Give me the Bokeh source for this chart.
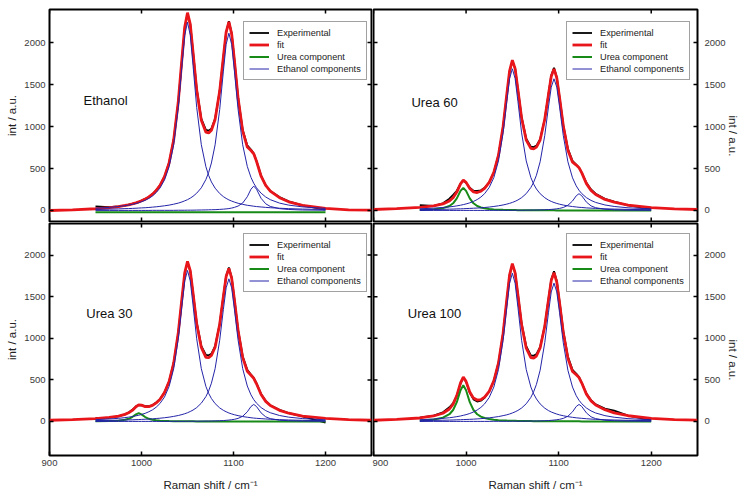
import math
from bokeh.plotting import figure
from bokeh.models import LinearAxis, FixedTicker, Legend, LegendItem, Label, Range1d
from bokeh.layouts import column, row
from bokeh.embed import file_html
from bokeh.resources import INLINE

FONT = "Liberation Sans"
C_EXP = "#000000"
C_FIT = "#e8161b"
C_UREA = "#178a17"
C_ETH = "#2424a8"

X_TICKS = [900, 1000, 1100, 1200]
Y_TICKS = [0, 500, 1000, 1500, 2000]
LEGEND_LABELS = ["Experimental", "fit", "Urea component", "Ethanol components"]
PANEL_NAMES = ["Ethanol", "Urea 60", "Urea 30", "Urea 100"]

# Raman shift grid (cm-1) of the measured range and the wider grid of the fit
X_DATA = [950, 965, 975, 982, 986, 990, 994, 997, 1000, 1004,
          1008, 1012, 1016, 1020, 1025, 1030, 1035, 1040, 1044, 1047,
          1050, 1053, 1056, 1060, 1065, 1070, 1073, 1076, 1080, 1085,
          1089, 1092, 1095, 1098, 1101, 1105, 1110, 1115, 1119, 1122,
          1125, 1130, 1135, 1140, 1150, 1160, 1175, 1200]
X_FIT = [900, 925] + X_DATA + [1225, 1250]

# ---------------- Ethanol ----------------
ETH_EXP = [48, 40, 50, 58, 70, 80, 90, 100, 118, 138,
           160, 196, 242, 300, 405, 570, 845, 1290, 1800, 2170,
           2340, 2215, 1895, 1450, 1095, 960, 950, 975, 1095, 1425,
           1825, 2120, 2255, 2110, 1795, 1345, 960, 775, 725, 680,
           590, 415, 300, 232, 160, 108, 60, 12]
ETH_FIT = [0, 7,
           21, 34, 47, 60, 68, 79, 91, 103, 116, 135,
           161, 195, 239, 297, 402, 567, 841, 1299, 1813, 2185,
           2355, 2218, 1886, 1434, 1075, 932, 923, 955, 1083, 1422,
           1830, 2125, 2245, 2103, 1786, 1336, 944, 755, 714, 675,
           586, 408, 298, 230, 152, 103, 61, 25,
           7, 5]
ETH_A = [27, 37, 47, 57, 64, 73, 83, 93, 104, 121,
         144, 173, 213, 266, 364, 521, 784, 1228, 1728, 2087,
         2242, 2087, 1728, 1228, 784, 521, 417, 340, 266, 202,
         165, 144, 126, 112, 100, 86, 73, 62, 56, 51,
         47, 42, 37, 33, 27, 22, 17, 12]
ETH_B = [13, 16, 19, 22, 23, 25, 27, 29, 31, 33,
         36, 40, 44, 49, 56, 64, 75, 88, 102, 115,
         129, 147, 169, 206, 270, 369, 453, 566, 782, 1202,
         1659, 1977, 2111, 1977, 1659, 1202, 782, 524, 394, 324,
         270, 206, 161, 129, 88, 64, 43, 25]
ETH_C = [1, 1, 1, 1, 1, 1, 1, 1, 1, 1,
         1, 2, 2, 2, 2, 2, 2, 3, 3, 3,
         4, 4, 4, 5, 6, 7, 8, 9, 10, 13,
         16, 19, 23, 29, 37, 53, 89, 164, 254, 290,
         254, 145, 80, 48, 22, 12, 6, 3]
ETH_UREA_X = [950, 1200]
ETH_UREA = [-20, -20]

# ---------------- Urea 60 ----------------
U60_EXP = [65, 55, 85, 140, 185, 235, 320, 355, 330, 270,
           235, 232, 240, 270, 335, 455, 660, 995, 1375, 1650,
           1780, 1690, 1445, 1110, 855, 760, 755, 772, 850, 1090,
           1385, 1610, 1700, 1585, 1350, 1020, 735, 590, 545, 510,
           450, 330, 250, 200, 140, 105, 60, 20]
U60_FIT = [12, 23,
           37, 55, 79, 114, 152, 219, 317, 362, 335, 261,
           222, 214, 229, 263, 334, 455, 658, 1000, 1385, 1663,
           1790, 1687, 1437, 1099, 838, 739, 733, 754, 839, 1086,
           1380, 1596, 1686, 1578, 1344, 1010, 718, 575, 541, 510,
           448, 320, 239, 190, 132, 99, 65, 35,
           20, 12]
U60_A = [20, 28, 36, 43, 48, 55, 63, 70, 78, 91,
         108, 130, 160, 200, 274, 392, 590, 924, 1300, 1570,
         1687, 1570, 1300, 924, 590, 392, 314, 256, 200, 152,
         124, 108, 95, 84, 75, 65, 55, 47, 42, 38,
         36, 31, 28, 25, 20, 17, 13, 9]
U60_B = [10, 12, 14, 16, 17, 19, 20, 21, 23, 25,
         27, 29, 32, 36, 41, 48, 56, 66, 76, 85,
         96, 109, 125, 153, 201, 274, 336, 420, 580, 893,
         1233, 1468, 1568, 1468, 1233, 893, 580, 389, 293, 241,
         201, 153, 120, 96, 66, 48, 32, 19]
U60_C = [0, 1, 1, 1, 1, 1, 1, 1, 1, 1,
         1, 1, 1, 1, 1, 2, 2, 2, 2, 2,
         2, 3, 3, 3, 4, 5, 5, 6, 7, 9,
         11, 13, 16, 20, 25, 36, 62, 113, 175, 200,
         175, 100, 55, 33, 15, 8, 4, 2]
U60_UREA = [7, 14, 28, 54, 86, 144, 233, 270, 233, 144,
            86, 54, 36, 26, 18, 13, 10, 8, 7, 6,
            5, 5, 4, 4, 3, 3, 3, 2, 2, 2,
            2, 2, 2, 1, 1, 1, 1, 1, 1, 1,
            1, 1, 1, 1, 1, 1, 1, 0]

# ---------------- Urea 30 ----------------
U30_EXP = [40, 45, 62, 85, 108, 140, 182, 198, 195, 185,
           183, 198, 228, 268, 350, 482, 705, 1065, 1475, 1775,
           1915, 1810, 1550, 1190, 910, 800, 795, 815, 905, 1175,
           1510, 1750, 1850, 1735, 1470, 1105, 785, 620, 565, 525,
           460, 330, 248, 195, 140, 100, 60, -15]
U30_FIT = [15, 23,
           35, 49, 65, 85, 104, 133, 177, 199, 196, 179,
           179, 193, 223, 265, 347, 480, 702, 1071, 1486, 1786,
           1925, 1814, 1546, 1175, 890, 771, 767, 793, 893, 1170,
           1504, 1743, 1840, 1724, 1460, 1094, 767, 603, 555, 519,
           453, 324, 242, 191, 134, 99, 64, 37,
           22, 15]
U30_A = [22, 30, 38, 46, 52, 59, 68, 75, 84, 98,
         117, 140, 172, 215, 294, 421, 635, 994, 1399, 1689,
         1815, 1689, 1399, 994, 635, 421, 338, 276, 215, 163,
         134, 117, 102, 91, 81, 70, 59, 51, 45, 41,
         38, 34, 30, 27, 22, 18, 14, 10]
U30_B = [11, 13, 16, 18, 19, 20, 22, 23, 25, 27,
         29, 32, 36, 39, 45, 52, 61, 72, 83, 93,
         105, 120, 137, 167, 220, 299, 368, 460, 635, 977,
         1348, 1606, 1715, 1606, 1348, 977, 635, 426, 320, 263,
         220, 167, 131, 105, 72, 52, 35, 20]
U30_C = [0, 1, 1, 1, 1, 1, 1, 1, 1, 1,
         1, 1, 1, 1, 1, 2, 2, 2, 2, 2,
         3, 3, 3, 3, 4, 5, 5, 6, 7, 9,
         11, 14, 17, 21, 26, 37, 63, 116, 180, 205,
         180, 103, 56, 34, 15, 9, 5, 2]
U30_UREA = [2, 5, 10, 20, 32, 53, 86, 100, 86, 53,
            32, 20, 14, 10, 7, 5, 4, 3, 2, 2,
            2, 2, 2, 1, 1, 1, 1, 1, 1, 1,
            1, 1, 1, 0, 0, 0, 0, 0, 0, 0,
            0, 0, 0, 0, 0, 0, 0, 0]

# ---------------- Urea 100 ----------------
U100_EXP = [45, 70, 110, 170, 220, 310, 455, 525, 478, 345,
            265, 240, 250, 285, 360, 490, 705, 1060, 1460, 1755,
            1890, 1790, 1530, 1180, 905, 795, 790, 810, 895, 1150,
            1470, 1705, 1805, 1690, 1440, 1090, 780, 620, 575, 535,
            465, 335, 255, 205, 155, 130, 70, 15]
U100_FIT = [15, 26,
            42, 66, 99, 150, 208, 311, 463, 533, 482, 355,
            281, 257, 263, 292, 363, 488, 701, 1061, 1467, 1762,
            1897, 1787, 1522, 1162, 881, 769, 763, 787, 883, 1144,
            1462, 1693, 1789, 1674, 1424, 1070, 759, 601, 561, 528,
            462, 329, 248, 198, 142, 104, 69, 38,
            22, 16]
U100_A = [21, 29, 38, 45, 51, 58, 66, 74, 82, 96,
          114, 138, 169, 211, 289, 414, 624, 976, 1374, 1660,
          1783, 1660, 1374, 976, 624, 414, 332, 271, 211, 160,
          131, 114, 101, 89, 79, 69, 58, 50, 44, 41,
          38, 33, 29, 26, 21, 18, 14, 10]
U100_B = [10, 13, 15, 17, 18, 20, 21, 23, 24, 26,
          28, 31, 34, 38, 44, 51, 59, 70, 80, 90,
          102, 116, 133, 162, 213, 290, 357, 446, 616, 947,
          1307, 1557, 1663, 1557, 1307, 947, 616, 413, 310, 255,
          213, 162, 127, 102, 70, 51, 34, 20]
U100_C = [0, 1, 1, 1, 1, 1, 1, 1, 1, 1,
          1, 1, 1, 1, 1, 2, 2, 2, 2, 2,
          3, 3, 3, 3, 4, 5, 5, 6, 7, 9,
          11, 14, 17, 21, 26, 37, 63, 116, 180, 205,
          180, 103, 56, 34, 15, 9, 5, 2]
U100_UREA = [11, 23, 45, 87, 138, 232, 375, 435, 375, 232,
             138, 87, 59, 42, 29, 21, 16, 13, 11, 10,
             9, 8, 7, 6, 5, 5, 4, 4, 4, 3,
             3, 3, 3, 2, 2, 2, 2, 2, 2, 2,
             1, 1, 1, 1, 1, 1, 1, 1]


def add_axis(p, side, ticks, title, standoff, title_standoff, flip_title=False):
    ax = LinearAxis(ticker=FixedTicker(ticks=ticks))
    ax.axis_line_color = None
    ax.major_tick_in = 4
    ax.major_tick_out = 0
    ax.major_tick_line_color = "black"
    ax.major_tick_line_width = 1.5
    ax.minor_tick_line_color = None
    ax.major_label_text_font = FONT
    ax.major_label_text_font_size = "9.5px"
    ax.major_label_text_color = "#3a3a3a"
    ax.major_label_standoff = standoff
    ax.axis_label = title
    ax.axis_label_text_font = FONT
    ax.axis_label_text_font_size = "11.5px"
    ax.axis_label_text_font_style = "normal"
    ax.axis_label_text_color = "#222222"
    ax.axis_label_standoff = title_standoff
    if flip_title:
        try:
            ax.axis_label_orientation = -math.pi / 2
        except Exception:
            pass
    p.add_layout(ax, side)
    return ax


def tick_rays(p, xs, ys, angle):
    # short inward tick marks on the sides that carry no labels
    p.ray(x=xs, y=ys, length=4, length_units="screen", angle=angle,
          line_color="black", line_width=1.5)


def make_panel(name, name_xy, exp, fit, comps, urea_x, urea, left, top):
    frame_w = 322 if left else 324
    frame_h = 212 if top else 232
    yr = (-131, 2393) if top else (-409, 2380)
    p = figure(frame_width=frame_w, frame_height=frame_h,
               x_range=Range1d(900, 1250), y_range=Range1d(*yr),
               output_backend="svg", toolbar_location=None,
               x_axis_location=None, y_axis_location=None)
    p.min_border_left = 49 if left else 1
    p.min_border_right = 1 if left else 50
    p.min_border_top = 9 if top else 1
    p.min_border_bottom = 1 if top else 40
    p.outline_line_color = "black"
    p.outline_line_width = 2
    p.outline_line_alpha = 1
    p.grid.visible = False
    p.background_fill_color = "white"
    p.border_fill_color = "white"

    r_exp = p.line(X_DATA, exp, line_color=C_EXP, line_width=1.8)
    r_fit = p.line(X_FIT, fit, line_color=C_FIT, line_width=2.8)
    r_urea = p.line(urea_x, urea, line_color=C_UREA, line_width=2.0)
    r_eth = []
    for comp in comps:
        r_eth.append(p.line(X_DATA, comp, line_color=C_ETH, line_width=1.0))

    x0, x1 = p.x_range.start, p.x_range.end
    y0, y1 = p.y_range.start, p.y_range.end
    # x ticks on top frame (and on bottom frame of the upper panels)
    tick_rays(p, X_TICKS, [y1] * len(X_TICKS), -math.pi / 2)
    if top:
        tick_rays(p, X_TICKS, [y0] * len(X_TICKS), math.pi / 2)
    else:
        add_axis(p, "below", X_TICKS, "Raman shift / cm\u207b\u00b9", 4, 10)
    if left:
        add_axis(p, "left", Y_TICKS, "int / a.u.", 4, 3)
        tick_rays(p, [x1] * len(Y_TICKS), Y_TICKS, math.pi)
    else:
        tick_rays(p, [x0] * len(Y_TICKS), Y_TICKS, 0.0)
        add_axis(p, "right", Y_TICKS, "int / a.u.", 7, 4, flip_title=True)

    items = [LegendItem(label=LEGEND_LABELS[0], renderers=[r_exp]),
             LegendItem(label=LEGEND_LABELS[1], renderers=[r_fit]),
             LegendItem(label=LEGEND_LABELS[2], renderers=[r_urea]),
             LegendItem(label=LEGEND_LABELS[3], renderers=[r_eth[0]])]
    leg = Legend(items=items, location=(194 if left else 193, 141 if top else 163))
    leg.padding = 5
    leg.margin = 0
    leg.spacing = 1
    leg.glyph_width = 20
    leg.glyph_height = 11
    leg.label_height = 11
    leg.label_standoff = 8
    leg.label_text_font = FONT
    leg.label_text_font_size = "9.2px"
    leg.label_text_color = "#222222"
    leg.border_line_color = "#444444"
    leg.border_line_width = 1
    leg.background_fill_alpha = 1
    p.add_layout(leg)

    p.add_layout(Label(x=name_xy[0], y=name_xy[1], text=name, text_font=FONT,
                       text_font_size="13px", text_baseline="middle",
                       text_color="#111111"))
    return p


p1 = make_panel(PANEL_NAMES[0], (937, 1310), ETH_EXP, ETH_FIT, [ETH_A, ETH_B, ETH_C],
                ETH_UREA_X, ETH_UREA, left=True, top=True)
p2 = make_panel(PANEL_NAMES[1], (941, 1290), U60_EXP, U60_FIT, [U60_A, U60_B, U60_C],
                X_DATA, U60_UREA, left=False, top=True)
p3 = make_panel(PANEL_NAMES[2], (940, 1294), U30_EXP, U30_FIT, [U30_A, U30_B, U30_C],
                X_DATA, U30_UREA, left=True, top=False)
p4 = make_panel(PANEL_NAMES[3], (937, 1294), U100_EXP, U100_FIT, [U100_A, U100_B, U100_C],
                X_DATA, U100_UREA, left=False, top=False)

layout = column(row(p1, p2), row(p3, p4))
open("out.html", "w").write(file_html(layout, INLINE))
